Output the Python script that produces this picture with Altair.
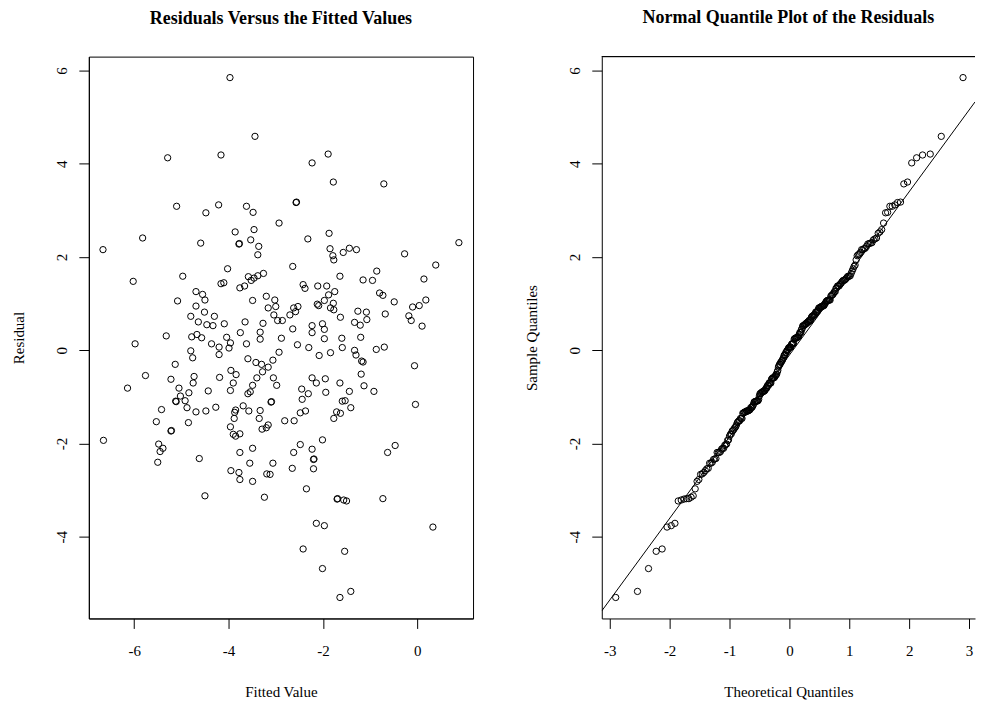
import altair as alt
import pandas as pd
import numpy as np
from statistics import NormalDist

# ---- data (fitted value, residual) ----
fitted = [
    -5.29, -4.16, -5.10, -4.48, -4.21, -5.82, -4.59, -6.66,
    -3.97, -3.44, -2.23, -1.89, -1.78, -3.62, -3.48, -2.57, -2.56, -2.93, -3.86, -3.46,
    -3.78, -3.77, -3.53, -3.36, -3.38, -2.32, -1.87, -1.85, -1.79, -1.57,
    -0.71, -1.44, -1.29, -0.27, 0.88,
    -6.02, -4.97, -4.16, -5.08, -4.69, -4.55, -4.50, -4.69, -4.51, -4.30, -4.80, -4.64,
    -4.46, -4.33, -5.32, -5.98, -4.78, -4.67, -4.57, -4.36, -4.20, -4.80, -4.76, -4.20,
    -5.13, -5.76, -5.22, -4.73, -4.75, -4.19, -6.14, -5.05, -4.84, -4.43, -5.02, -5.12,
    -5.11, -4.92, -4.88, -4.69, -4.48, -4.27, -5.42, -5.53, -4.85, -5.22, -5.21, -6.65,
    -5.48, -5.39, -5.45,
    -5.50, -4.62, -4.50,
    -2.64, -4.02, -1.77, -1.64, -3.26, -3.38, -3.46, -3.58, -3.52, -4.10, -3.76, -3.66,
    -2.42, -2.38, -2.11, -1.92, -1.75, -1.88, -1.97, -2.12, -2.09, -1.78, -1.84, -1.77,
    -3.49, -3.20, -3.02, -3.16, -3.00, -3.04, -2.96, -2.86, -2.70, -2.62, -2.53, -2.58,
    -1.63, -4.09, -3.65, -3.27, -2.64, -2.23, -2.01, -1.97, -2.23, -3.75, -3.33, -4.04,
    -3.96, -3.99, -3.33, -2.88, -3.62, -2.54, -2.30, -1.97, -1.60, -2.08, -1.84, -1.59,
    -2.93, -3.59, -3.42, -3.30, -3.16, -3.06, -3.28, -3.40, -3.05, -2.98, -3.95, -3.84,
    -3.90, -3.49, -3.96, -3.54, -3.59, -3.10, -3.09, -3.85, -3.87, -3.69, -3.57, -3.33,
    -3.35, -3.88, -3.96, -3.90, -3.85, -3.76, -3.29, -3.16, -3.20, -2.81, -2.61, -2.48,
    -2.37, -2.45, -2.44, -2.31, -2.23, -2.14, -1.95, -1.94, -1.64, -1.59, -1.77, -1.71,
    -1.63, -3.76, -3.49, -2.48, -2.23, -2.01, -2.62,
    0.39, -0.86, -1.15, -0.95, 0.14, -0.80, -0.73, -0.49, 0.18, 0.04, -0.10, -1.26,
    -1.08, -1.07, -1.33, -1.21, -0.68, -0.18, -0.13, 0.10, -1.20, -1.33, -1.30, -1.18,
    -1.15, -0.87, -0.70, -0.06, -1.19, -1.13, -0.92, -1.44, -1.53, -1.41, -0.04, -0.47,
    -0.63,
    -3.55, -3.06, -3.95, -3.78, -3.76, -3.49, -3.19, -3.12, -2.65, -2.20, -2.19, -2.20,
    -3.24, -2.35, -1.70, -1.69, -1.56, -2.14, -1.97, -2.42, -1.54, -2.01, -1.64,
    -1.50, -0.73, 0.33, -1.41,
]
residual = [
    4.13, 4.19, 3.09, 2.95, 3.12, 2.41, 2.30, 2.16,
    5.85, 4.59, 4.02, 4.21, 3.61, 3.09, 2.96, 3.17, 3.18, 2.73, 2.54, 2.59,
    2.28, 2.29, 2.37, 2.23, 2.05, 2.39, 2.51, 2.18, 2.03, 2.10,
    3.57, 2.19, 2.16, 2.07, 2.31,
    1.48, 1.59, 1.43, 1.06, 1.26, 1.20, 1.08, 0.95, 0.82, 0.73, 0.73, 0.61,
    0.55, 0.53, 0.31, 0.14, 0.29, 0.34, 0.27, 0.14, 0.07, -0.01, -0.16, -0.09,
    -0.30, -0.54, -0.62, -0.56, -0.70, -0.58, -0.81, -0.81, -0.91, -0.87, -0.98, -1.09,
    -1.10, -1.08, -1.23, -1.32, -1.30, -1.22, -1.27, -1.53, -1.55, -1.73, -1.72, -1.93,
    -2.01, -2.10, -2.17,
    -2.40, -2.32, -3.12,
    1.80, 1.75, 1.94, 1.59, 1.65, 1.60, 1.55, 1.58, 1.50, 1.45, 1.34, 1.38,
    1.41, 1.33, 1.38, 1.38, 1.26, 1.19, 1.07, 0.99, 0.96, 1.01, 0.91, 0.87,
    1.07, 1.16, 1.08, 0.91, 0.94, 0.76, 0.64, 0.64, 0.76, 0.91, 0.94, 0.83,
    0.71, 0.57, 0.61, 0.58, 0.46, 0.53, 0.57, 0.45, 0.38, 0.38, 0.39, 0.28,
    0.16, 0.05, 0.24, 0.26, 0.14, 0.12, 0.06, 0.25, 0.26, -0.11, -0.05, 0.06,
    -0.04, -0.18, -0.26, -0.30, -0.36, -0.21, -0.46, -0.59, -0.59, -0.75, -0.43, -0.52,
    -0.70, -0.75, -0.86, -0.89, -0.93, -1.11, -1.10, -1.28, -1.33, -1.19, -1.30, -1.29,
    -1.46, -1.46, -1.64, -1.80, -1.84, -1.79, -1.69, -1.60, -1.66, -1.51, -1.51, -1.34,
    -1.30, -0.83, -1.05, -0.93, -0.59, -0.70, -0.61, -0.90, -0.70, -1.09, -1.46, -1.32,
    -1.35, -2.19, -2.10, -2.02, -2.12, -1.92, -2.19,
    1.83, 1.70, 1.51, 1.50, 1.53, 1.23, 1.18, 1.04, 1.08, 0.96, 0.93, 0.84,
    0.82, 0.66, 0.60, 0.54, 0.78, 0.74, 0.64, 0.52, 0.28, 0.00, -0.10, -0.23,
    -0.25, 0.02, 0.07, -0.33, -0.51, -0.76, -0.88, -0.88, -1.08, -1.23, -1.16, -2.04,
    -2.19,
    -2.42, -2.42, -2.58, -2.62, -2.77, -2.81, -2.65, -2.66, -2.53, -2.34, -2.33, -2.54,
    -3.15, -2.97, -3.19, -3.18, -3.21, -3.71, -3.76, -4.26, -4.31, -4.68, -5.30,
    -3.23, -3.18, -3.79, -5.17,
]

left_x_ticks = [-6, -4, -2, 0]
qq_x_ticks = [-3, -2, -1, 0, 1, 2, 3]
y_ticks = [-4, -2, 0, 2, 4, 6]

FONT = "Liberation Serif"

df = pd.DataFrame({"fitted": fitted, "residual": residual})

# normal quantile plot (R qqnorm / qqline conventions)
nd = NormalDist()
n = len(residual)
sample_sorted = sorted(residual)
theoretical = [nd.inv_cdf((i + 0.5) / n) for i in range(n)]
qq = pd.DataFrame({"theoretical": theoretical, "sample": sample_sorted})

QQ_DOMAIN = [-3.133, 3.10]
q1, q3 = np.percentile(residual, [25, 75])
z1, z3 = nd.inv_cdf(0.25), nd.inv_cdf(0.75)
slope = (q3 - q1) / (z3 - z1)
intercept = q1 - slope * z1
line_df = pd.DataFrame({"theoretical": QQ_DOMAIN,
                        "sample": [intercept + slope * v for v in QQ_DOMAIN]})

y_domain = [-5.75, 6.30]
y_scale = alt.Scale(domain=y_domain, nice=False, zero=False)
LABEL = "'' + datum.value"

RIGHT_W = 374

def y_axis(title):
    return alt.Axis(values=y_ticks, title=title, labelAngle=270, labelExpr=LABEL,
                    labelAlign="center", labelBaseline="bottom", labelPadding=9,
                    titleAngle=270, titleX=-70, titleBaseline="middle",
                    titleAlign="center")

def x_axis(values, title):
    return alt.Axis(values=values, title=title, labelPadding=15, labelExpr=LABEL,
                    titleY=73, titleBaseline="middle", titleAlign="center")

def title(text):
    return alt.TitleParams(text, font=FONT, fontSize=18, fontWeight="bold",
                           color="black", anchor="middle", frame="group",
                           offset=11, baseline="bottom")

pt = dict(shape="circle", filled=False, color="black", size=40, strokeWidth=1, opacity=1)

left = alt.Chart(df, title=title("Residuals Versus the Fitted Values")).mark_point(**pt).encode(
    x=alt.X("fitted:Q", scale=alt.Scale(domain=[-6.96, 1.18], nice=False, zero=False),
            axis=x_axis(left_x_ticks, "Fitted Value")),
    y=alt.Y("residual:Q", scale=y_scale, axis=y_axis("Residual")),
).properties(width=385, height=563)

qq_points = alt.Chart(qq).mark_point(**pt).encode(
    x=alt.X("theoretical:Q", scale=alt.Scale(domain=QQ_DOMAIN, nice=False, zero=False),
            axis=x_axis(qq_x_ticks, "Theoretical Quantiles")),
    y=alt.Y("sample:Q", scale=y_scale, axis=y_axis("Sample Quantiles")),
)
qq_line = alt.Chart(line_df).mark_line(color="black", strokeWidth=1, clip=True).encode(
    x="theoretical:Q", y="sample:Q")
top_rule = alt.Chart(line_df).mark_rule(color="black", strokeWidth=1).encode(
    x=alt.value(0), x2=alt.value(RIGHT_W), y=alt.value(0))

right = alt.layer(qq_points, qq_line, top_rule,
                  title=title("Normal Quantile Plot of the Residuals"),
                  view=alt.ViewBackground(stroke="transparent")).properties(width=RIGHT_W, height=563)

chart = alt.hconcat(left, right, spacing=129, bounds="flush").properties(
    padding={"left": 3, "top": 0, "right": 0, "bottom": 0},
    background="white",
).configure_view(stroke="black", strokeWidth=1).configure_axis(
    grid=False, domain=True, domainColor="black", domainWidth=1,
    ticks=True, tickSize=10, tickColor="black", tickWidth=1,
    labelFont=FONT, labelFontSize=15, labelColor="black",
    titleFont=FONT, titleFontSize=15, titleFontWeight="normal", titleColor="black",
    labelFlush=False, labelOverlap=False,
)

chart.save("out.html", embed_options={"renderer": "svg", "actions": False})
